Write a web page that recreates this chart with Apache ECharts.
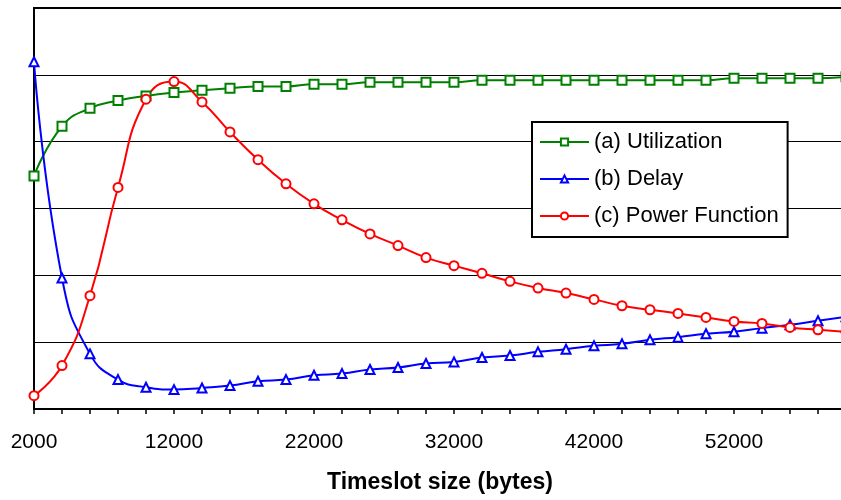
<!DOCTYPE html>
<html>
<head>
<meta charset="utf-8">
<script src="https://cdn.jsdelivr.net/npm/echarts@6/dist/echarts.min.js"></script>
<style>
  html, body { margin: 0; padding: 0; background: #fff; }
  #chart { width: 841px; height: 500px; }
</style>
</head>
<body>
<div id="chart"></div>
<script>
// timeslot sizes in bytes (x values)
const sizes = [2000, 4000, 6000, 8000, 10000, 12000, 14000, 16000, 18000, 20000,
  22000, 24000, 26000, 28000, 30000, 32000, 34000, 36000, 38000, 40000,
  42000, 44000, 46000, 48000, 50000, 52000, 54000, 56000, 58000, 60000]

// values (normalised, no y labels on the original)
const utilization = [0.697, 0.846, 0.900, 0.923, 0.937, 0.947, 0.954, 0.960, 0.965, 0.965,
  0.972, 0.972, 0.978, 0.978, 0.978, 0.978, 0.984, 0.984, 0.984, 0.984,
  0.984, 0.984, 0.984, 0.984, 0.984, 0.990, 0.990, 0.990, 0.990, 0.994]
const delay = [1.039, 0.392, 0.165, 0.088, 0.065, 0.058, 0.063, 0.070, 0.083, 0.088,
  0.101, 0.106, 0.118, 0.124, 0.136, 0.141, 0.154, 0.160, 0.171, 0.179,
  0.189, 0.195, 0.207, 0.215, 0.225, 0.231, 0.242, 0.252, 0.264, 0.276]
const power = [0.040, 0.130, 0.339, 0.663, 0.927, 0.980, 0.919, 0.829, 0.746, 0.674,
  0.614, 0.566, 0.524, 0.489, 0.453, 0.429, 0.406, 0.382, 0.362, 0.347,
  0.328, 0.309, 0.297, 0.286, 0.274, 0.262, 0.256, 0.244, 0.237, 0.231]

const seriesNames = ['(a) Utilization', '(b) Delay', '(c) Power Function']
const seriesColors = ['#008000', '#0000ff', '#ff0000']
const seriesSymbols = ['emptyRect', 'emptyTriangle', 'emptyCircle']
const seriesValues = [utilization, delay, power]

const font = 'Liberation Sans, Arial, Helvetica, sans-serif'

const chart = echarts.init(document.getElementById('chart'), null, { renderer: 'canvas' })

const option = {
  animation: false,
  backgroundColor: '#fff',
  textStyle: { fontFamily: font, color: '#000' },
  grid: {
    left: 34,
    right: -5,
    top: 8,
    bottom: 91,
    outerBoundsMode: 'none',
    show: true,
    borderColor: '#000',
    borderWidth: 2
  },
  legend: {
    orient: 'vertical',
    left: 532,
    top: 122,
    padding: [9, 9, 10, 7],
    itemWidth: 49,
    itemHeight: 9,
    itemGap: 15,
    backgroundColor: '#fff',
    borderColor: '#000',
    borderWidth: 2,
    textStyle: { fontFamily: font, fontSize: 22, color: '#000' },
    data: seriesNames
  },
  xAxis: {
    type: 'value',
    min: 2000,
    max: 60000,
    interval: 2000,
    name: 'Timeslot size (bytes)',
    nameLocation: 'middle',
    nameGap: 62,
    nameTextStyle: { fontFamily: font, fontSize: 23, fontWeight: 'bold', color: '#000' },
    axisLine: { lineStyle: { color: '#000', width: 2 } },
    axisTick: { length: 5, lineStyle: { color: '#000', width: 1.5 } },
    axisLabel: {
      fontFamily: font,
      fontSize: 21,
      color: '#000',
      margin: 23,
      formatter: v => ((v - 2000) % 10000 === 0 ? String(v) : '')
    },
    splitLine: { show: false }
  },
  yAxis: {
    type: 'value',
    min: 0,
    max: 1.2,
    interval: 0.2,
    axisLine: { show: true, lineStyle: { color: '#000', width: 2 } },
    axisTick: { show: false },
    axisLabel: { show: false },
    splitLine: { lineStyle: { color: '#000', width: 1.2 } }
  },
  series: seriesNames.map((name, k) => ({
    name,
    type: 'line',
    smooth: 0.5,
    data: sizes.map((x, i) => [x, seriesValues[k][i]]),
    symbol: seriesSymbols[k],
    symbolSize: 9,
    color: seriesColors[k],
    lineStyle: { color: seriesColors[k], width: 2 },
    itemStyle: { color: seriesColors[k], borderColor: seriesColors[k], borderWidth: 2 }
  }))
}

chart.setOption(option)
</script>
</body>
</html>
